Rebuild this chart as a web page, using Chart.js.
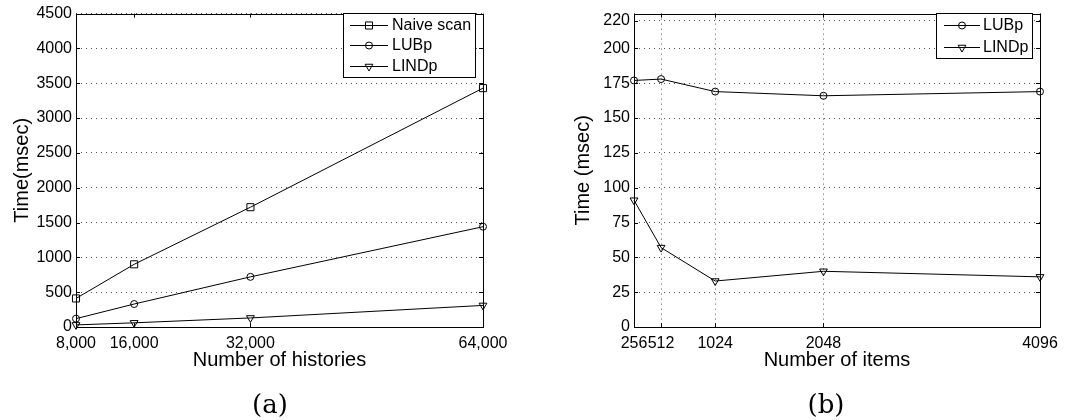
<!DOCTYPE html>
<html>
<head>
<meta charset="utf-8">
<title>Time vs histories / items</title>
<script src="https://cdn.jsdelivr.net/npm/chart.js@4.4.0/dist/chart.umd.min.js"></script>
<style>
  body { margin: 0; background: #fff; }
  #wrap { position: relative; width: 1065px; height: 420px; overflow: hidden; }
  canvas { position: absolute; top: 0; }
  #chartA { left: 0; }
  #chartB { left: 530px; }
  .cap { position: absolute; font-family: 'DejaVu Serif', 'Liberation Serif', serif; font-size: 26px;
         color: #000; transform: translate(-50%, -50%); }
</style>
</head>
<body>
<div id="wrap">
  <canvas id="chartA" width="530" height="420"></canvas>
  <canvas id="chartB" width="535" height="420"></canvas>
  <div class="cap" style="left:270px; top:404px;">(a)</div>
  <div class="cap" style="left:826px; top:404px;">(b)</div>
</div>
<script>
// (a) time vs number of histories
var histories = [8000, 16000, 32000, 64000];
var naiveScan = [410, 900, 1720, 3430];
var lubpHist = [120, 330, 720, 1440];
var lindpHist = [30, 60, 130, 310];
var histTicks = [8000, 16000, 32000, 64000];
var timeTicksA = [0, 500, 1000, 1500, 2000, 2500, 3000, 3500, 4000, 4500];

// (b) time vs number of items
var items = [256, 512, 1024, 2048, 4096];
var lubpItems = [177, 178, 169, 166, 169];
var lindpItems = [91, 57, 33, 40, 36];
var itemTicks = [256, 512, 1024, 2048, 4096];
var timeTicksB = [0, 25, 50, 75, 100, 125, 150, 175, 200, 220];

Chart.defaults.font.family = "'Liberation Sans', Arial, sans-serif";
Chart.defaults.color = '#000';

function pts(xs, ys) {
  return xs.map(function (x, i) { return { x: x, y: ys[i] }; });
}

function series(label, xs, ys, style, r, rot) {
  return {
    label: label,
    data: pts(xs, ys),
    borderColor: '#000',
    borderWidth: 1,
    pointStyle: style,
    pointRadius: r,
    pointRotation: rot || 0,
    pointBorderColor: '#000',
    pointBorderWidth: 1,
    pointBackgroundColor: 'rgba(0,0,0,0)',
    tension: 0,
    clip: false
  };
}

function plain(v) { return String(v); }
function commas(v) { return Number(v).toLocaleString('en-US'); }

// frame round the plot with small inward ticks
var frame = {
  id: 'frame',
  afterDraw: function (chart) {
    var ctx = chart.ctx, a = chart.chartArea;
    var xs = chart.scales.x, ys = chart.scales.y;
    ctx.save();
    ctx.strokeStyle = '#000';
    ctx.lineWidth = 1;
    ctx.strokeRect(Math.round(a.left) + 0.5, Math.round(a.top) + 0.5,
                   Math.round(a.right - a.left), Math.round(a.bottom - a.top));
    ctx.beginPath();
    ys.ticks.forEach(function (t) {
      var y = Math.round(ys.getPixelForValue(t.value)) + 0.5;
      ctx.moveTo(a.left, y); ctx.lineTo(a.left + 4, y);
      ctx.moveTo(a.right, y); ctx.lineTo(a.right - 4, y);
    });
    xs.ticks.forEach(function (t) {
      var x = Math.round(xs.getPixelForValue(t.value)) + 0.5;
      ctx.moveTo(x, a.bottom); ctx.lineTo(x, a.bottom - 4);
      ctx.moveTo(x, a.top); ctx.lineTo(x, a.top + 4);
    });
    ctx.stroke();
    ctx.restore();
  }
};

// boxed legend inside the plot
var boxLegend = {
  id: 'boxLegend',
  afterDraw: function (chart, args, o) {
    var ctx = chart.ctx;
    ctx.save();
    ctx.fillStyle = '#fff';
    ctx.fillRect(o.box[0], o.box[1], o.box[2], o.box[3]);
    ctx.strokeStyle = '#000';
    ctx.lineWidth = 1;
    ctx.strokeRect(o.box[0] + 0.5, o.box[1] + 0.5, o.box[2], o.box[3]);
    ctx.font = "16px 'Liberation Sans', Arial, sans-serif";
    ctx.textBaseline = 'middle';
    ctx.textAlign = 'left';
    chart.data.datasets.forEach(function (ds, i) {
      var y = o.rows[i] + 0.5;
      ctx.beginPath();
      ctx.moveTo(o.line[0], y);
      ctx.lineTo(o.line[1], y);
      ctx.stroke();
      ctx.fillStyle = 'rgba(0,0,0,0)';
      Chart.helpers.drawPoint(ctx, {
        pointStyle: ds.pointStyle, radius: ds.pointRadius,
        rotation: ds.pointRotation, borderWidth: 1
      }, (o.line[0] + o.line[1]) / 2, y);
      ctx.fillStyle = '#000';
      ctx.fillText(ds.label, o.textX, y);
    });
    ctx.restore();
  }
};

function fixTicks(list) {
  return function (scale) {
    scale.ticks = list.map(function (v) { return { value: v }; });
  };
}

var gridOpts = { color: '#555', lineWidth: 1, drawTicks: false };
var borderOpts = { display: false, dash: [1, 4] };

new Chart(document.getElementById('chartA'), {
  type: 'line',
  data: {
    datasets: [
      series('Naive scan', histories, naiveScan, 'rect', 5),
      series('LUBp', histories, lubpHist, 'circle', 3.5),
      series('LINDp', histories, lindpHist, 'triangle', 4.5, 180)
    ]
  },
  options: {
    responsive: false,
    animation: false,
    devicePixelRatio: 1,
    layout: { padding: { left: 4, right: 47, top: 8, bottom: 48 } },
    plugins: {
      legend: { display: false },
      tooltip: { enabled: false },
      boxLegend: { box: [343, 13, 132, 64], rows: [25, 45, 66], line: [350, 388], textX: 392 }
    },
    scales: {
      x: {
        type: 'linear', min: 8000, max: 64000,
        afterBuildTicks: fixTicks(histTicks),
        afterFit: function (s) { s.height = 45; },
        grid: { display: false, drawTicks: false },
        border: { display: false },
        ticks: { padding: 7, font: { size: 16 }, maxRotation: 0, autoSkip: false, callback: commas },
        title: { display: true, text: 'Number of histories', font: { size: 20 }, padding: { top: 0, bottom: 0 } }
      },
      y: {
        min: 0, max: 4500,
        afterBuildTicks: fixTicks(timeTicksA),
        afterFit: function (s) { s.width = 72; },
        grid: gridOpts,
        border: borderOpts,
        ticks: { padding: 4, font: { size: 16 }, callback: plain },
        title: { display: true, text: 'Time(msec)', font: { size: 20 }, padding: { top: 6, bottom: 0 } }
      }
    }
  },
  plugins: [frame, boxLegend]
});

new Chart(document.getElementById('chartB'), {
  type: 'line',
  data: {
    datasets: [
      series('LUBp', items, lubpItems, 'circle', 3.5),
      series('LINDp', items, lindpItems, 'triangle', 4.5, 180)
    ]
  },
  options: {
    responsive: false,
    animation: false,
    devicePixelRatio: 1,
    layout: { padding: { left: 35, right: 25, top: 8, bottom: 48 } },
    plugins: {
      legend: { display: false },
      tooltip: { enabled: false },
      boxLegend: { box: [406, 13, 96, 45], rows: [25, 47], line: [414, 450], textX: 453 }
    },
    scales: {
      x: {
        type: 'linear', min: 256, max: 4096,
        afterBuildTicks: fixTicks(itemTicks),
        afterFit: function (s) { s.height = 45; },
        grid: gridOpts,
        border: borderOpts,
        ticks: { padding: 7, font: { size: 16 }, maxRotation: 0, autoSkip: false, callback: plain },
        title: { display: true, text: 'Number of items', font: { size: 20 }, padding: { top: 0, bottom: 0 } }
      },
      y: {
        min: 0, max: 225,
        afterBuildTicks: fixTicks(timeTicksB),
        afterFit: function (s) { s.width = 69; },
        grid: gridOpts,
        border: borderOpts,
        ticks: { padding: 4, font: { size: 16 }, callback: plain },
        title: { display: true, text: 'Time (msec)', font: { size: 20 }, padding: { top: 6, bottom: 0 } }
      }
    }
  },
  plugins: [frame, boxLegend]
});
</script>
</body>
</html>
